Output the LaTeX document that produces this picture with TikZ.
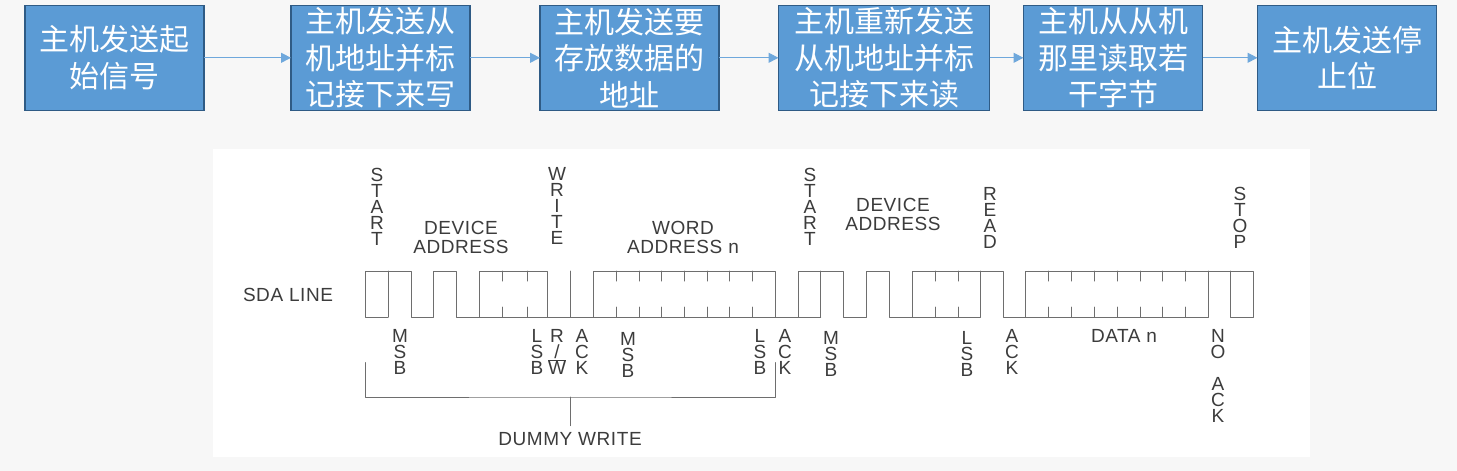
\documentclass[tikz,border=0pt]{standalone}
\usepackage{fontspec}
\setmainfont{Liberation Sans}[LetterSpace=3]
\newfontfamily\cjk{Noto Sans CJK SC}
\usetikzlibrary{arrows.meta,positioning}
\definecolor{boxblue}{HTML}{5B9BD5}
\definecolor{boxedge}{HTML}{2F5B85}
\definecolor{arrowblue}{HTML}{6FA8DC}
\definecolor{wavegray}{HTML}{6E6E6E}
\definecolor{labelgray}{HTML}{3C3C3C}

\begin{document}
\begin{tikzpicture}[
  x=1pt, y=-1pt, node distance=0pt and 87pt,
  flowbox/.style={rectangle,draw=boxedge,line width=1.2pt,fill=boxblue,text=white,align=center,minimum width=179pt,minimum height=105pt,inner sep=0pt,outer sep=0pt,font=\cjk\fontsize{30}{36.5}\selectfont},
  flowarr/.style={-{Triangle[length=10pt,width=10pt]},draw=arrowblue,line width=1pt},
  wave/.style={draw=wavegray,line width=1pt,line cap=round,line join=round},
  lab/.style={align=center,inner sep=0pt,text=labelgray,font=\fontsize{19}{19}\selectfont},
  vlab/.style={align=center,inner sep=0pt,text=labelgray,font=\fontsize{19}{16}\selectfont}]
\useasboundingbox (0,0) rectangle (1457,471);
\fill[fill=black!3] (0,0) rectangle (1457,471);
\fill[white] (213,149) rectangle (1310,457);
% flow chart on top
\node[flowbox] (b1) at (114.5,57.8) {主机发送起\\始信号};
\node[flowbox, right=of b1] (b2) {主机发送从\\机地址并标\\记接下来写};
\node[flowbox, right=70pt of b2] (b3) {主机发送要\\存放数据的\\地址};
\node[flowbox, right=59.5pt of b3, minimum width=211pt] (b4) {主机重新发送\\从机地址并标\\记接下来读};
\node[flowbox, right=34pt of b4] (b5) {主机从从机\\那里读取若\\干字节};
\node[flowbox, right=55pt of b5] (b6) {主机发送停\\止位};
\draw[flowarr] (b1) -- (b2);
\draw[flowarr] (b2) -- (b3);
\draw[flowarr] (b3) -- (b4);
\draw[flowarr] (b4) -- (b5);
\draw[flowarr] (b5) -- (b6);
% SDA waveform
\draw[wave] (388,317) -- (365,317) -- (365,271) -- (411,271) -- (411,317) -- (433,317) -- (433,271) -- (456,271) -- (456,317) -- (820.6,317);
\draw[wave] (388,271) -- (388,317);
\draw[wave] (479,317) -- (479,271) -- (547,271) -- (547,317);
\draw[wave] (570,271) -- (570,317);
\draw[wave] (593,317) -- (593,271) -- (775,271) -- (775,317);
\draw[wave] (820.6,317) -- (820.6,271);
\draw[wave] (798,317) -- (798,271) -- (843.5,271) -- (843.5,317) -- (866,317) -- (866,271) -- (889,271) -- (889,317) -- (980,317) -- (980,271);
\draw[wave] (912,317) -- (912,271) -- (1003,271) -- (1003,317) -- (1208,317) -- (1208,271);
\draw[wave] (1025.7,317) -- (1025.7,271) -- (1253.7,271) -- (1253.7,317) -- (1230,317) -- (1230,271);
\foreach \x in {502,527,616,639,661,684,707,729,752,935,958,1048,1071,1094,1117,1140,1162.5,1185}
  \draw[wave] (\x,271) -- (\x,281) (\x,307) -- (\x,317);
% dummy write bracket
\coordinate (brl) at (365,362.5);
\coordinate (brr) at (775,362.5);
\coordinate (brm) at (570,397);
\draw[wave] (brl) |- (brm) -| (brr);
\draw[wave] (brm) -- (570,425.7);
% labels above the line
\node[lab] (sda) at (288,295) {SDA LINE};
\node[vlab] (start1) at (377,206.5) {S\\T\\A\\R\\T};
\node[lab] (dev1) at (461,237) {DEVICE\\ADDRESS};
\node[vlab] (write) at (557,206) {W\\R\\I\\T\\E};
\node[lab] (word) at (683,237) {WORD\\ADDRESS n};
\node[vlab] (start2) at (810,206.5) {S\\T\\A\\R\\T};
\node[lab] (dev2) at (893,214.5) {DEVICE\\ADDRESS};
\node[vlab] (read) at (990,217.5) {R\\E\\A\\D};
\node[vlab] (stop) at (1240,217.5) {S\\T\\O\\P};
% labels below the line
\node[vlab] (msb1) at (400,352) {M\\S\\B};
\node[vlab] (lsb1) at (537,352) {L\\S\\B};
\node[vlab] (rw) at (557,352) {R\\/\\$\overline{\mbox{W}}$};
\node[vlab] (ack1) at (582,352) {A\\C\\K};
\node[vlab] (msb2) at (628,354.5) {M\\S\\B};
\node[vlab] (lsb2) at (760,352) {L\\S\\B};
\node[vlab] (ack2) at (785,352) {A\\C\\K};
\node[vlab] (msb3) at (831,354) {M\\S\\B};
\node[vlab] (lsb3) at (967,354) {L\\S\\B};
\node[vlab] (ack3) at (1012,352) {A\\C\\K};
\node[lab] (data) at (1124,336) {DATA n};
\node[vlab] (noack) at (1218,376) {N\\O\\[16pt]A\\C\\K};
\node[lab] (dummy) at (570,439) {DUMMY WRITE};
\end{tikzpicture}
\end{document}
